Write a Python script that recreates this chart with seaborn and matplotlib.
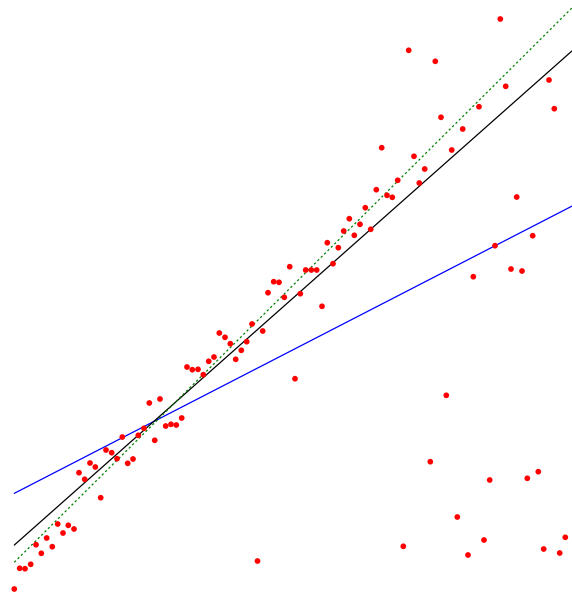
import numpy as np
import pandas as pd
import seaborn as sns
import matplotlib
matplotlib.use("Agg")
import matplotlib.pyplot as plt

# ── Data ──────────────────────────────────────────────────────────────
x = [14.3, 19.7, 25.0, 30.7, 36.0, 41.3, 46.7, 52.3, 57.7, 63.0,
     68.3, 74.0, 79.0, 84.7, 90.0, 95.3, 100.7, 106.0, 111.7, 117.0,
     122.3, 127.7, 133.0, 138.3, 144.0, 149.3, 154.7, 160.0, 165.7, 171.0,
     176.3, 181.7, 187.0, 192.3, 198.0, 203.3, 208.7, 214.0, 219.3, 225.0,
     230.3, 235.7, 241.3, 246.7, 252.0, 257.5, 262.7, 268.0, 273.7, 279.0,
     284.3, 289.7, 295.0, 300.3, 305.7, 311.3, 316.7, 322.0, 327.3, 333.0,
     338.3, 343.7, 349.3, 354.3, 360.0, 365.3, 370.7, 376.3, 381.7, 387.0,
     392.3, 397.7, 403.3, 408.7, 414.0, 419.3, 424.7, 430.3, 435.3, 441.0,
     446.3, 451.7, 457.3, 462.7, 468.0, 473.3, 479.0, 484.0, 489.7, 495.0,
     500.3, 505.7, 511.0, 516.7, 522.0, 527.3, 532.7, 538.3, 543.7, 549.0,
     554.3, 559.7, 565.3]
y = [7.0, 27.7, 27.3, 31.7, 51.3, 42.7, 58.0, 49.3, 72.0, 63.0,
     70.7, 67.0, 123.3, 116.7, 133.0, 129.0, 98.3, 146.0, 143.3, 137.3,
     159.0, 132.7, 137.0, 160.7, 167.7, 193.0, 155.7, 197.0, 170.0, 171.7,
     171.0, 178.0, 229.0, 226.3, 226.7, 221.3, 234.7, 239.0, 263.0, 258.7,
     252.3, 236.7, 245.7, 254.3, 272.0, 35.0, 265.0, 303.3, 314.3, 313.7,
     298.7, 329.3, 217.3, 302.3, 326.0, 326.0, 326.0, 289.7, 353.3, 332.3,
     348.3, 365.0, 377.3, 360.7, 371.7, 388.3, 366.7, 406.3, 448.3, 400.7,
     398.7, 415.7, 49.7, 545.7, 439.7, 413.0, 427.0, 134.3, 534.7, 478.7,
     200.7, 446.0, 79.0, 467.0, 41.0, 319.3, 489.3, 56.0, 116.0, 350.3,
     577.0, 509.7, 327.0, 399.0, 325.0, 117.7, 360.3, 124.3, 47.0, 516.0,
     487.3, 43.0, 58.7]

# fitted lines: (intercept, slope)
line_x = [14.3, 572.0]
robust_fit = (38.3, 0.886)     # black
true_fit = (19.5, 0.994)       # green dashed
ols_fit = (95.3, 0.515)        # blue

pts = pd.DataFrame({"x": x, "y": y})

fig = plt.figure(figsize=(5.72, 5.96), dpi=100)
ax = fig.add_axes([0, 0, 1, 1])
sns.set_style("white")

lx = np.array(line_x)
for (b, m), color, ls in [(ols_fit, "blue", "-"),
                          (robust_fit, "black", "-"),
                          (true_fit, "green", (0, (1.8, 2.0)))]:
    sns.lineplot(x=lx, y=b + m * lx, color=color, lw=0.9, linestyle=ls, ax=ax)

sns.scatterplot(data=pts, x="x", y="y", color="red", s=17,
                edgecolor="none", ax=ax, zorder=3)

ax.set_xlim(0, 572)
ax.set_ylim(0, 596)
ax.axis("off")

plt.savefig("out.png", dpi=100)
plt.close()
